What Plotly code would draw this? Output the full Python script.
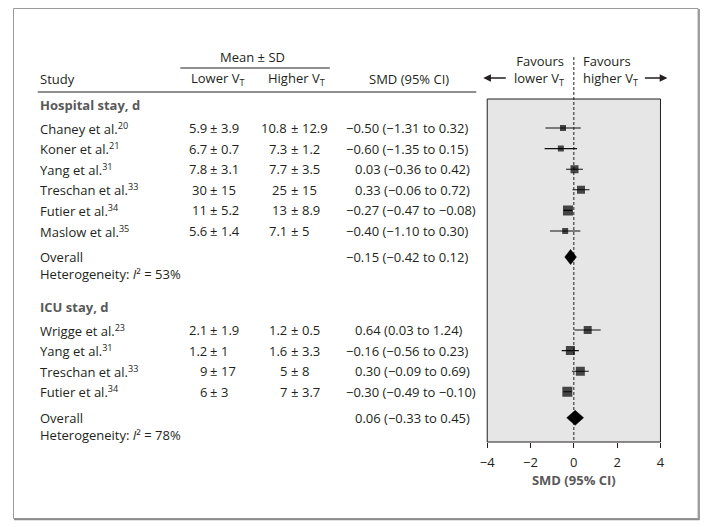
import plotly.graph_objects as go

# page body has an 8px margin, so the figure is sized to fit the window exactly
OFF = 8
W, H = 709 - OFF, 527 - OFF

# ---------------- data ----------------
hosp_studies = ["Chaney et al.", "Koner et al.", "Yang et al.", "Treschan et al.", "Futier et al.", "Maslow et al."]
hosp_refs = ["20", "21", "31", "33", "34", "35"]
hosp_lower_mean = [5.9, 6.7, 7.8, 30, 11, 5.6]
hosp_lower_sd = [3.9, 0.7, 3.1, 15, 5.2, 1.4]
hosp_higher_mean = [10.8, 7.3, 7.7, 25, 13, 7.1]
hosp_higher_sd = [12.9, 1.2, 3.5, 15, 8.9, 5]
hosp_smd = [-0.50, -0.60, 0.03, 0.33, -0.27, -0.40]
hosp_lo = [-1.31, -1.35, -0.36, -0.06, -0.47, -1.10]
hosp_hi = [0.32, 0.15, 0.42, 0.72, -0.08, 0.30]
hosp_overall = [-0.15, -0.42, 0.12]
hosp_i2 = 53

icu_studies = ["Wrigge et al.", "Yang et al.", "Treschan et al.", "Futier et al."]
icu_refs = ["23", "31", "33", "34"]
icu_lower_mean = [2.1, 1.2, 9, 6]
icu_lower_sd = [1.9, 1, 17, 3]
icu_higher_mean = [1.2, 1.6, 5, 7]
icu_higher_sd = [0.5, 3.3, 8, 3.7]
icu_smd = [0.64, -0.16, 0.30, -0.30]
icu_lo = [0.03, -0.56, -0.09, -0.49]
icu_hi = [1.24, 0.23, 0.69, -0.10]
icu_overall = [0.06, -0.33, 0.45]
icu_i2 = 78

x_ticks = [-4, -2, 0, 2, 4]

# ---------------- styles / layout ----------------
hosp_sizes = [6, 6, 8, 8, 10, 6]
icu_sizes = [8, 9, 9, 10]

FONT = "Open Sans"
TXT = "#231f20"
HDR = "#595959"
FS = 13

groups = [
    dict(title="Hospital stay, d", top=105, studies=hosp_studies, refs=hosp_refs,
         lm=hosp_lower_mean, ls=hosp_lower_sd, hm=hosp_higher_mean, hs=hosp_higher_sd,
         smd=hosp_smd, lo=hosp_lo, hi=hosp_hi, overall=hosp_overall, i2=hosp_i2, sizes=hosp_sizes),
    dict(title="ICU stay, d", top=307, studies=icu_studies, refs=icu_refs,
         lm=icu_lower_mean, ls=icu_lower_sd, hm=icu_higher_mean, hs=icu_higher_sd,
         smd=icu_smd, lo=icu_lo, hi=icu_hi, overall=icu_overall, i2=icu_i2, sizes=icu_sizes),
]
FIRST_OFF = 23
STEP = 20.6
OVERALL_OFF = 26
LINE_H = 17

PANEL_TOP, PANEL_BOT = 99, 442
X_LEFT_PX, X_RIGHT_PX = 487, 662
PAD = 0.1  # range padding so the panel border is not clipped
px_per_unit = (X_RIGHT_PX - X_LEFT_PX) / 8.0


def px(x):
    """reference-page x pixel -> paper fraction"""
    return (x - OFF) / W


def py(y):
    """reference-page y pixel -> paper fraction"""
    return (527 - y) / H


dom_l = px(X_LEFT_PX - PAD * px_per_unit)
dom_r = px(X_RIGHT_PX + PAD * px_per_unit)


def fmt(v):
    return f"{v:.2f}".replace("-", "\u2212")


def fmt_g(v):
    return f"{v:g}".replace("-", "\u2212")


fig = go.Figure()
ann = []
shapes = []


def text(x, y, s, anchor="left", bold=False, color=TXT, size=FS):
    ann.append(dict(x=px(x), xref="paper", y=y, yref="y", text=f"<b>{s}</b>" if bold else s,
                    showarrow=False, xanchor=anchor, yanchor="middle", align=anchor if anchor != "center" else "center",
                    font=dict(family=FONT, size=size, color=color)))


def pm_cell(xc, y, m, s):
    text(xc - 5.5, y, fmt_g(m), anchor="right")
    text(xc, y, "±", anchor="center")
    text(xc + 5.5, y, fmt_g(s), anchor="left")


# outer frame
shapes.append(dict(type="rect", xref="paper", yref="paper", x0=px(8.5), x1=px(700),
                   y0=py(518.5), y1=py(8.5), line=dict(color="#9a9a9a", width=1)))
shapes.append(dict(type="line", xref="paper", yref="paper", x0=px(701), x1=px(701),
                   y0=py(519.5), y1=py(9), line=dict(color="#8a8a8a", width=1.5)))
shapes.append(dict(type="line", xref="paper", yref="paper", x0=px(9), x1=px(701.5),
                   y0=py(519.5), y1=py(519.5), line=dict(color="#8a8a8a", width=1.5)))

# panel
shapes.append(dict(type="rect", xref="x", yref="y", x0=x_ticks[0], x1=x_ticks[-1],
                   y0=PANEL_TOP, y1=PANEL_BOT, fillcolor="#e6e6e6",
                   line=dict(color=TXT, width=1), layer="below"))

# header lines
shapes.append(dict(type="line", xref="paper", yref="y", x0=px(177), x1=px(328), y0=68, y1=68,
                   line=dict(color=TXT, width=1)))
shapes.append(dict(type="line", xref="paper", yref="y", x0=px(33), x1=px(476), y0=92, y1=92,
                   line=dict(color=TXT, width=1)))

# header text
text(250, 57, "Mean ± SD", anchor="center")
text(33, 79, "Study")
text(215, 79, "Lower V<sub>T</sub>", anchor="center")
text(294, 79, "Higher V<sub>T</sub>", anchor="center")
text(408, 79, "SMD (95% CI)", anchor="center")
text(567, 70.5, "Favours<br>lower V<sub>T</sub>", anchor="right")
text(582, 70.5, "Favours<br>higher V<sub>T</sub>", anchor="left")

# arrows
for xs, dx in ((483, 24), (669, -24)):
    ann.append(dict(x=px(xs), xref="paper", y=78, yref="y", ax=dx, ay=0, text="",
                    showarrow=True, arrowhead=2, arrowsize=1.1, arrowwidth=1.4, arrowcolor=TXT))

# zero line (dashed)
fig.add_trace(go.Scatter(x=[0, 0], y=[57, PANEL_BOT], mode="lines",
                         line=dict(color=TXT, width=1, dash="3px,2px"), hoverinfo="skip",
                         showlegend=False))

for g in groups:
    text(33, g["top"], g["title"], bold=True, color=HDR, size=FS)
    ys = [g["top"] + FIRST_OFF + i * STEP for i in range(len(g["studies"]))]
    cx, cy = [], []
    for i, y in enumerate(ys):
        text(33, y, f"{g['studies'][i]}<sup>{g['refs'][i]}</sup>")
        pm_cell(211, y, g["lm"][i], g["ls"][i])
        pm_cell(292, y, g["hm"][i], g["hs"][i])
        s = f"{fmt(g['smd'][i])} ({fmt(g['lo'][i])} to {fmt(g['hi'][i])})"
        text(342 if g["smd"][i] < 0 else 351.5, y, s)
        cx += [g["lo"][i], g["hi"][i], None]
        cy += [y, y, None]
    fig.add_trace(go.Scatter(x=cx, y=cy, mode="lines", line=dict(color="#111111", width=1.1),
                             hoverinfo="skip", showlegend=False))
    fig.add_trace(go.Scatter(x=g["smd"], y=ys, mode="markers",
                             marker=dict(symbol="square", size=g["sizes"], color="#000000",
                                         line=dict(width=0)),
                             showlegend=False))
    oy = ys[-1] + OVERALL_OFF
    est, lo, hi = g["overall"]
    text(33, oy + LINE_H / 2, f"Overall<br>Heterogeneity: <i>I</i>² = {g['i2']}%")
    text(342 if est < 0 else 351.5, oy, f"{fmt(est)} ({fmt(lo)} to {fmt(hi)})")
    h = 7.5
    fig.add_trace(go.Scatter(x=[lo, est, hi, est, lo], y=[oy, oy - h, oy, oy + h, oy],
                             mode="lines", fill="toself", fillcolor="#000000",
                             line=dict(color="#000000", width=0.5), hoverinfo="skip",
                             showlegend=False))

fig.update_layout(
    width=W, height=H, margin=dict(l=0, r=0, t=0, b=0),
    paper_bgcolor="white", plot_bgcolor="rgba(0,0,0,0)",
    font=dict(family=FONT, size=FS, color=TXT),
    showlegend=False,
    annotations=ann, shapes=shapes,
    xaxis=dict(domain=[dom_l, dom_r], range=[x_ticks[0] - PAD, x_ticks[-1] + PAD],
               anchor="free", position=py(PANEL_BOT),
               showline=False, showgrid=False, zeroline=False,
               ticks="outside", ticklen=5, tickwidth=1, tickcolor=TXT,
               ticklabelstandoff=3,
               tickvals=x_ticks, ticktext=[fmt_g(t) for t in x_ticks],
               tickfont=dict(family=FONT, size=13, color=TXT),
               title=dict(text="<b>SMD (95% CI)</b>", font=dict(family=FONT, size=13, color=HDR),
                          standoff=4)),
    yaxis=dict(domain=[0, 1], range=[527, OFF], visible=False),
)

fig.write_html("out.html")
